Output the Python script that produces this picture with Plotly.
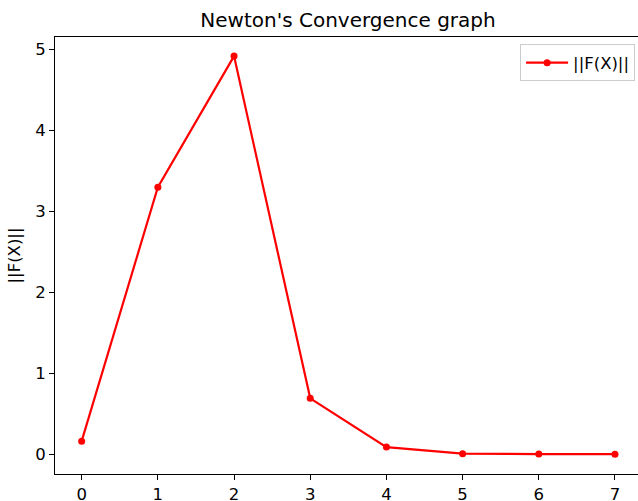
import plotly.graph_objects as go

iterations = [0, 1, 2, 3, 4, 5, 6, 7]
norm_F = [0.16, 3.30, 4.92, 0.69, 0.087, 0.006, 0.0002, 0.0]
x_ticks = [0, 1, 2, 3, 4, 5, 6, 7]
y_ticks = [0, 1, 2, 3, 4, 5]

FONT = "DejaVu Sans"
FS = 16.5

fig = go.Figure()
fig.add_trace(go.Scatter(
    x=iterations, y=norm_F, mode="lines+markers", name="||F(X)||",
    line=dict(color="red", width=2.2),
    marker=dict(color="red", size=7),
))

fig.update_layout(
    width=638, height=501,
    margin=dict(l=55, r=0, t=37, b=27),
    paper_bgcolor="white", plot_bgcolor="white",
    font=dict(family=FONT, size=FS, color="black"),
    title=dict(text="Newton's Convergence graph", x=0.5026, xref="paper",
               xanchor="center", y=1 - 20 / 501, yanchor="middle",
               font=dict(family=FONT, size=20, color="black")),
    showlegend=True,
    legend=dict(x=0.995, xanchor="right", y=0.983, yanchor="top",
                bgcolor="rgba(255,255,255,0.8)", bordercolor="#cccccc",
                borderwidth=1, itemwidth=42, font=dict(family=FONT, size=FS)),
    xaxis=dict(range=[-0.35, 7.302], tickvals=x_ticks, showgrid=False,
               zeroline=False, showline=True, linecolor="black", linewidth=1,
               mirror=True, ticks="outside", ticklen=5, tickcolor="black",
               automargin=False, tickfont=dict(family=FONT, size=FS)),
    yaxis=dict(range=[-0.2455, 5.156], tickvals=y_ticks, showgrid=False,
               zeroline=False, showline=True, linecolor="black", linewidth=1,
               mirror=False, ticks="outside", ticklen=5, tickcolor="black",
               automargin=False, tickfont=dict(family=FONT, size=FS),
               title=dict(text="||F(X)||", standoff=10,
                          font=dict(family=FONT, size=FS))),
)

fig.write_html("out.html")
